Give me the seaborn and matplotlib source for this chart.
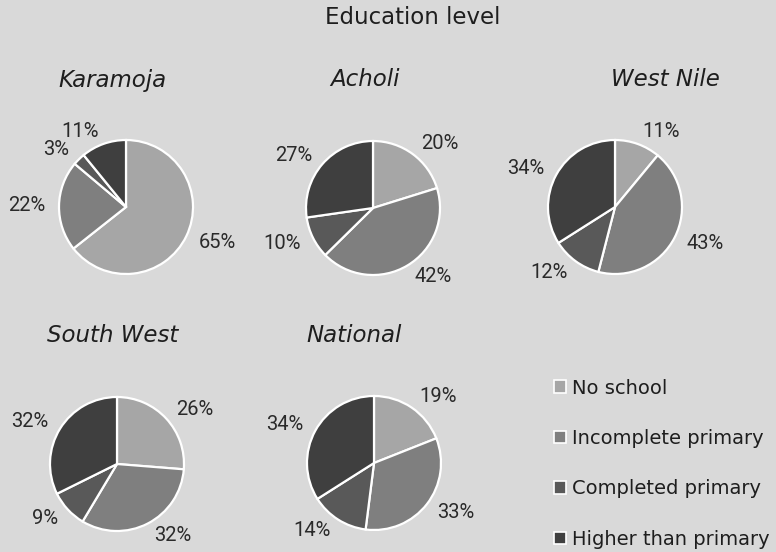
import numpy as np
import matplotlib
matplotlib.use("Agg")
import matplotlib.pyplot as plt
from matplotlib.transforms import Bbox, TransformedBbox
import seaborn as sns

# data
categories = ["No school", "Incomplete primary", "Completed primary", "Higher than primary"]
regions = ["Karamoja", "Acholi", "West Nile", "South West", "National"]
karamoja = [65, 22, 3, 11]
acholi = [20, 42, 10, 27]
west_nile = [11, 43, 12, 34]
south_west = [26, 32, 9, 32]
national = [19, 33, 14, 34]
values = [karamoja, acholi, west_nile, south_west, national]

# style
sns.set_theme(style="white")
bg = "#d9d9d9"
colors = ["#a6a6a6", "#7f7f7f", "#595959", "#3f3f3f"]
plt.rcParams["font.family"] = ["DejaVu Sans"]
txt_color = "#1e1e1e"

W, H = 776, 552
fig = plt.figure(figsize=(W / 100, H / 100), dpi=100, facecolor=bg)

# pie centres / title positions in pixels (layout only)
centres = [(126, 207), (373, 208), (615, 207), (117, 464), (374, 463)]
title_pos = [(112, 80), (365, 80), (665, 80), (113, 335), (354, 335)]
radius_px = 67
lim = 1.9
half = radius_px * lim

# the National "33%" label is cut off at the right in the original
clip = TransformedBbox(Bbox.from_extents(0, 0, 480 / W, 1), fig.transFigure)

for name, vals, (cx, cy), (tx, ty) in zip(regions, values, centres, title_pos):
    ax = fig.add_axes([(cx - half) / W, 1 - (cy + half) / H, 2 * half / W, 2 * half / H])
    ax.set_facecolor("none")
    wedges, texts = ax.pie(
        vals, colors=colors, startangle=90, counterclock=False,
        labels=[f"{v}%" for v in vals], labeldistance=1.2,
        wedgeprops=dict(edgecolor="white", linewidth=1.6),
        textprops=dict(fontsize=14.5, color="#2a2a2a", family="Roboto"),
    )
    ax.set_xlim(-lim, lim)
    ax.set_ylim(-lim, lim)
    ax.set_aspect("equal")
    ax.axis("off")
    for t in texts:
        t.set_clip_on(name == "National")
        t.set_clip_box(clip)
    fig.text(tx / W, 1 - ty / H, name, ha="center", va="center",
             fontsize=16.5, style="italic", color=txt_color)

fig.text(413 / W, 1 - 17 / H, "Education level", ha="center", va="center",
         fontsize=16.5, color=txt_color)

handles = [plt.Rectangle((0, 0), 1, 1, facecolor=c, edgecolor="white", linewidth=1.2)
           for c in colors]
leg = fig.legend(handles, categories, loc="lower left", bbox_to_anchor=(554 / W, 3 / H),
                 frameon=False, fontsize=14, labelspacing=1.62, handlelength=0.62,
                 handleheight=0.62, handletextpad=0.3, borderaxespad=0.0, borderpad=0.0)
for t in leg.get_texts():
    t.set_color(txt_color)

fig.savefig("out.png", dpi=100, facecolor=bg)
